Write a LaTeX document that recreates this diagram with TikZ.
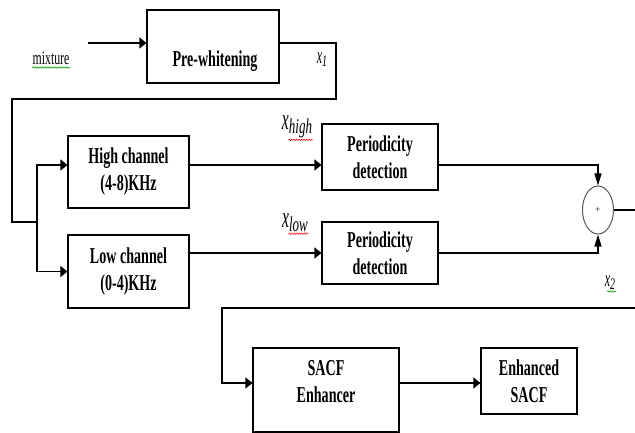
\documentclass[tikz,border=0pt]{standalone}
\usepackage{fontspec}
\setmainfont{Liberation Serif}
\newfontfamily\tallfont[FakeStretch=0.62]{Liberation Serif}
\newfontfamily\labfont[FakeStretch=0.52]{Liberation Serif}
\usetikzlibrary{arrows.meta,shapes.geometric,decorations.pathmorphing}
\newcommand{\lowsub}[2]{\raisebox{-0.3ex}{\tallfont\itshape\fontsize{#1}{#1}\selectfont #2}}

\begin{document}
\begin{tikzpicture}[x=1pt, y=-1pt, >={Triangle[length=7pt,width=11pt]}, line width=1.2pt,
    blk/.style={draw, rectangle, inner sep=0pt, line width=1.1pt},
    txt/.style={font=\tallfont\bfseries\fontsize{22.7}{27}\selectfont, align=center, inner sep=0pt},
    lab/.style={font=\labfont\itshape\fontsize{#1}{#1}\selectfont, inner sep=0pt},
    vtip/.style={-{Triangle[length=12pt,width=7pt]}},
    wavy/.style={line width=0.5pt, decorate, decoration={snake, amplitude=0.8pt, segment length=2.5pt}}]
  \useasboundingbox (0,0) rectangle (635,433);

  % 1. blocks
  \node[blk, minimum width=132pt, minimum height=73pt] (pre) at (213,46.5) {};
  \node[txt, anchor=base] (pretxt) at (215,67) {Pre-whitening};
  \node[blk, txt, minimum width=121pt, minimum height=72pt] (hi) at (128.5,172) {High channel\\(4-8)KHz};
  \node[blk, txt, minimum width=121pt, minimum height=73pt] (lo) at (128.5,271.5) {Low channel\\(0-4)KHz};
  \node[blk, txt, minimum width=116pt, minimum height=66pt] (pd1) at (380,157) {Periodicity\\detection};
  \node[blk, txt, minimum width=116pt, minimum height=62pt] (pd2) at (380,253) {Periodicity\\detection};
  \node[draw=gray!70!black, ellipse, line width=1pt, inner sep=0pt, minimum width=31pt, minimum height=48pt,
        font=\fontsize{9}{9}\selectfont] (sum) at (598,210) {+};
  \node[blk, minimum width=146pt, minimum height=84pt] (enh) at (326,390) {};
  \node[txt] (enhtxt) at (326,382) {SACF\\Enhancer};
  \node[blk, txt, minimum width=96pt, minimum height=66pt] (out) at (529,381) {Enhanced\\SACF};

  % 2. labels
  \node[inner sep=0pt, anchor=base, font=\tallfont\fontsize{19}{19}\selectfont] (mix) at (51,65) {mixture};
  \node[lab=23] (x1) at (322,60) {x\lowsub{16}{1}};
  \node[lab=30] (xh) at (297,127) {x\lowsub{21}{high}};
  \node[lab=30] (xl) at (295,223) {x\lowsub{21}{low}};
  \node[lab=23] (x2) at (610,283) {x\lowsub{16}{2}};
  \draw[wavy, green!60!black] ([yshift=-2.5pt]mix.base west) -- ([yshift=-2.5pt]mix.base east);
  \draw[wavy, red] ([xshift=7pt,yshift=-1pt]xh.south west) -- ([yshift=-1pt]xh.south east);
  \draw[wavy, red] ([xshift=7pt,yshift=-1pt]xl.south west) -- ([yshift=-1pt]xl.south east);
  \draw[wavy, green!60!black] ([xshift=-3pt,yshift=-1pt]x2.south) -- ([xshift=6pt,yshift=-1pt]x2.south);

  % 3. connectors
  \coordinate (in) at (88,43);
  \coordinate (tr) at (336,99);
  \coordinate (tl) at (12,99);
  \coordinate (br) at (37,222);
  \coordinate (hrow) at (0,165);
  \coordinate (xr) at (635,308);
  \coordinate (xlft) at (222,308);
  \draw[->] (in) -- (in -| pre.west);
  \draw (in -| pre.east) -| (tr) -- (tl) |- (br);
  \draw[->] (br) |- ([yshift=7pt]hi.west);
  \draw[->] (br) |- (lo.west);
  \draw[->] (hrow -| hi.east) -- (hrow -| pd1.west);
  \draw[->] (pd2.west -| lo.east) -- (pd2.west);
  \draw[vtip] (hrow -| pd1.east) -| (sum.north);
  \draw[vtip] (pd2.east) -| (sum.south);
  \draw (sum.east) -- (sum.east -| xr);
  \draw[->] (xr) -- (xlft) |- ([yshift=7pt]enh.west);
  \draw[->] ([yshift=7pt]enh.east) -- ([yshift=7pt]enh.east -| out.west);
\end{tikzpicture}
\end{document}
